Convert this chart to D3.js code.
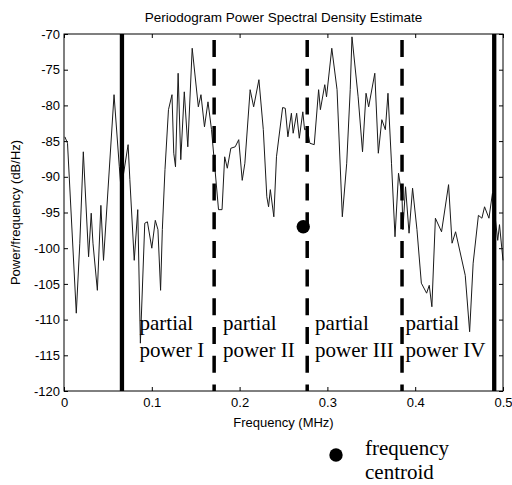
<!DOCTYPE html>
<html>
<head>
<meta charset="utf-8">
<script src="https://cdn.jsdelivr.net/npm/d3@7"></script>
<style>
  body { margin: 0; background: #fff; }
  svg { display: block; }
  .axis text { font-family: Arial, 'Liberation Sans', sans-serif; font-size: 13px; fill: #000; }
  .axis line { stroke: #000; }
</style>
</head>
<body>
<svg id="chart" width="512" height="485"></svg>
<script>
// periodogram estimate, frequency in MHz and power in dB/Hz
const freq = [0.001, 0.004, 0.014, 0.018, 0.022, 0.028, 0.031, 0.033, 0.038, 0.042,
  0.045, 0.057, 0.063, 0.065, 0.073, 0.075, 0.080, 0.084, 0.087, 0.092,
  0.095, 0.100, 0.104, 0.107, 0.110, 0.112, 0.115, 0.119, 0.123, 0.125,
  0.127, 0.130, 0.133, 0.137, 0.141, 0.146, 0.153, 0.156, 0.160, 0.164,
  0.168, 0.172, 0.176, 0.180, 0.183, 0.186, 0.190, 0.195, 0.199, 0.203,
  0.206, 0.212, 0.216, 0.222, 0.227, 0.231, 0.233, 0.235, 0.239, 0.242,
  0.249, 0.252, 0.255, 0.259, 0.261, 0.265, 0.268, 0.272, 0.274, 0.277,
  0.280, 0.285, 0.290, 0.292, 0.297, 0.299, 0.305, 0.311, 0.317, 0.322,
  0.326, 0.328, 0.335, 0.340, 0.344, 0.347, 0.354, 0.358, 0.362, 0.366,
  0.369, 0.373, 0.377, 0.381, 0.385, 0.386, 0.389, 0.393, 0.397, 0.402,
  0.407, 0.413, 0.416, 0.419, 0.423, 0.430, 0.438, 0.442, 0.446, 0.457,
  0.462, 0.466, 0.472, 0.476, 0.479, 0.484, 0.488, 0.494, 0.496, 0.500]
const power = [-84.4, -85.3, -109.1, -99.3, -86.5, -101.2, -95.1, -99.3, -105.9, -94.0,
  -101.7, -78.5, -88.6, -91.8, -85.5, -90.4, -101.7, -94.6, -113.3, -96.5,
  -96.3, -100.0, -96.1, -97.4, -105.9, -97.4, -89.0, -80.6, -78.5, -86.7,
  -88.6, -75.5, -87.6, -78.1, -85.8, -72.0, -80.2, -78.5, -83.0, -79.5,
  -83.4, -89.0, -94.6, -94.6, -87.2, -88.8, -86.0, -85.8, -84.8, -90.5,
  -88.1, -77.8, -80.2, -76.4, -83.4, -92.8, -94.2, -91.8, -95.6, -87.2,
  -80.3, -80.4, -84.4, -81.1, -83.9, -81.1, -84.6, -80.9, -83.4, -83.2,
  -85.3, -85.5, -77.8, -80.6, -77.1, -78.8, -72.0, -77.8, -95.6, -88.1,
  -77.8, -70.4, -78.8, -86.5, -78.3, -80.2, -75.5, -86.7, -82.0, -83.4,
  -78.3, -88.1, -98.4, -89.5, -92.8, -97.4, -91.4, -97.9, -91.6, -97.4,
  -104.9, -106.3, -105.2, -108.2, -95.8, -97.7, -91.1, -99.3, -97.7, -103.8,
  -111.7, -102.1, -95.4, -95.8, -94.2, -95.8, -92.3, -98.9, -96.7, -101.7]

// band edges (solid = outer limits, dashed = split between partial powers)
const solidEdges = [0.066, 0.490]
const dashedEdges = [0.171, 0.277, 0.385]
const bandLabels = [['partial', 'power I'], ['partial', 'power II'], ['partial', 'power III'], ['partial', 'power IV']]
const bandLabelFreq = [0.086, 0.181, 0.286, 0.389]
const centroid = { f: 0.2725, p: -97.0 }

const xTicks = [0, 0.1, 0.2, 0.3, 0.4, 0.5]
const yTicks = [-70, -75, -80, -85, -90, -95, -100, -105, -110, -115, -120]

const margin = { left: 64, top: 34, right: 9, bottom: 94 }
const svg = d3.select('#chart')
const W = +svg.attr('width')
const H = +svg.attr('height')
const x = d3.scaleLinear().domain([0, 0.5]).range([margin.left, W - margin.right])
const y = d3.scaleLinear().domain([-120, -70]).range([H - margin.bottom, margin.top])

svg.append('rect').attr('width', W).attr('height', H).attr('fill', '#fff')

// axes, MATLAB style: ticks inside, box all round
const fmt = d => String(d)
svg.append('g').attr('class', 'axis')
  .attr('transform', `translate(0,${y(-120)})`)
  .call(d3.axisBottom(x).tickValues(xTicks).tickFormat(fmt).tickSize(-4).tickPadding(7))
svg.append('g').attr('class', 'axis')
  .attr('transform', `translate(0,${y(-70)})`)
  .call(d3.axisTop(x).tickValues(xTicks).tickFormat('').tickSize(-4))
svg.append('g').attr('class', 'axis')
  .attr('transform', `translate(${x(0)},0)`)
  .call(d3.axisLeft(y).tickValues(yTicks).tickFormat(fmt).tickSize(-4).tickPadding(4))
svg.append('g').attr('class', 'axis')
  .attr('transform', `translate(${x(0.5)},0)`)
  .call(d3.axisRight(y).tickValues(yTicks).tickFormat('').tickSize(-4))
svg.selectAll('.axis .domain').remove()

// spectrum
const line = d3.line().x((d, i) => x(freq[i])).y(d => y(d))
svg.append('path')
  .datum(power)
  .attr('d', line)
  .attr('fill', 'none')
  .attr('stroke', '#1a1a1a')
  .attr('stroke-width', 1)

// band edges
svg.selectAll('.solid').data(solidEdges).enter().append('line')
  .attr('x1', d => x(d)).attr('x2', d => x(d))
  .attr('y1', y(-70)).attr('y2', y(-120))
  .attr('stroke', '#000').attr('stroke-width', 4.3)
svg.selectAll('.dashed').data(dashedEdges).enter().append('line')
  .attr('x1', d => x(d)).attr('x2', d => x(d))
  .attr('y1', y(-70)).attr('y2', y(-120))
  .attr('stroke', '#000').attr('stroke-width', 3.5)
  .attr('stroke-dasharray', '17,11.7')
  .attr('stroke-dashoffset', 22.7)

// band labels
bandLabels.forEach((lines, i) => {
  const t = svg.append('text')
    .attr('x', x(bandLabelFreq[i]))
    .attr('y', y(-111.5))
    .attr('font-family', "'Liberation Serif', 'Times New Roman', serif")
    .attr('font-size', 21)
  lines.forEach((s, j) => {
    t.append('tspan').attr('x', x(bandLabelFreq[i])).attr('dy', j ? 26.5 : 0).text(s)
  })
})

// frequency centroid
svg.append('circle')
  .attr('cx', x(centroid.f)).attr('cy', y(centroid.p)).attr('r', 6.7)
  .attr('fill', '#000')

// box
svg.append('rect')
  .attr('x', x(0)).attr('y', y(-70))
  .attr('width', x(0.5) - x(0)).attr('height', y(-120) - y(-70))
  .attr('fill', 'none').attr('stroke', '#000').attr('stroke-width', 1)

// title and axis labels
const sans = "Arial, 'Liberation Sans', sans-serif"
svg.append('text')
  .attr('x', (x(0) + x(0.5)) / 2).attr('y', 22)
  .attr('text-anchor', 'middle').attr('font-family', sans).attr('font-size', 13.5)
  .text('Periodogram Power Spectral Density Estimate')
svg.append('text')
  .attr('x', (x(0) + x(0.5)) / 2).attr('y', 427)
  .attr('text-anchor', 'middle').attr('font-family', sans).attr('font-size', 13)
  .text('Frequency (MHz)')
svg.append('text')
  .attr('transform', `translate(20,${(y(-70) + y(-120)) / 2}) rotate(-90)`)
  .attr('text-anchor', 'middle').attr('font-family', sans).attr('font-size', 13)
  .text('Power/frequency (dB/Hz)')

// legend below the plot
const lg = svg.append('g').attr('transform', 'translate(336,455)')
lg.append('circle').attr('r', 6.7).attr('fill', '#000')
const lt = lg.append('text')
  .attr('x', 29).attr('y', 0)
  .attr('font-family', "'Liberation Serif', 'Times New Roman', serif")
  .attr('font-size', 21)
lt.append('tspan').attr('x', 29).attr('dy', 0).text('frequency')
lt.append('tspan').attr('x', 29).attr('dy', 24).text('centroid')
</script>
</body>
</html>
